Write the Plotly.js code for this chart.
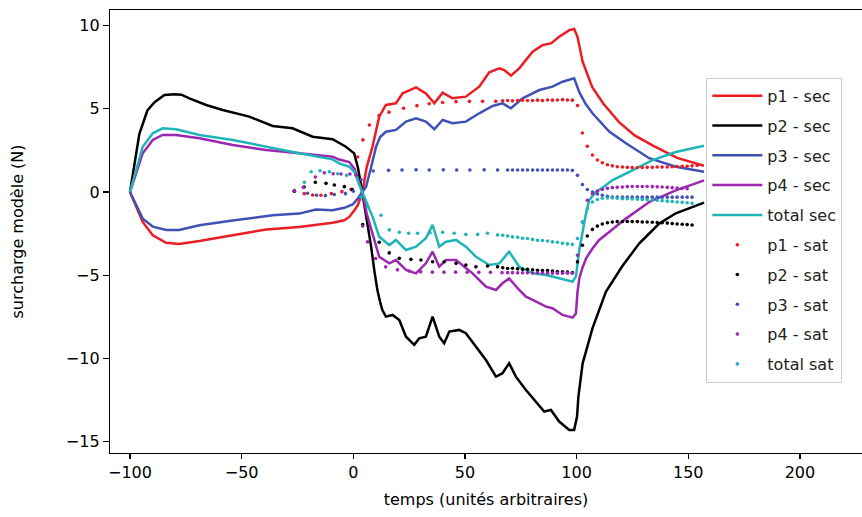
<!DOCTYPE html>
<html>
<head>
<meta charset="utf-8">
<script src="https://cdn.plot.ly/plotly-3.0.1.min.js"></script>
<style>html,body{margin:0;padding:0;background:#fff;overflow:hidden;}#chart{width:864px;height:517px;}</style>
</head>
<body>
<div id="chart"></div>
<script>
// ---- solid "sec" series ----
const xP1 = [-100,-97,-94.3,-89.8,-83.8,-78,-68.9,-54,-39,-24.2,-9.3,-4,-1.8,0.5,2,3.5,4.5,6,8.6,11.6,14.6,19.1,22.1,28.1,32.5,36.3,40,44.4,50.4,56.4,60.9,65.4,67.6,70.6,74.3,80.3,84.7,88.5,92.2,96.7,98.9,100.4,102.7,107,112,119,126,134,145,157];
const yP1 = [0,-1.0,-1.8,-2.6,-3.05,-3.12,-2.95,-2.6,-2.25,-2.1,-1.85,-1.7,-1.5,-1.1,-0.8,-0.25,0.3,1.5,2.72,4.53,5.23,5.33,5.93,6.29,5.93,5.33,5.97,5.63,5.73,6.33,7.2,7.43,7.33,6.99,7.43,8.43,8.83,8.93,9.33,9.73,9.8,9.33,7.83,6.3,5.3,4.2,3.4,2.8,2.05,1.58];

const xP2 = [-100,-95.8,-92.2,-89,-84.6,-80,-77,-73.4,-65.9,-58.5,-46.6,-36.1,-27.2,-18.2,-9.3,-3.3,0.4,2,3.5,5,6.5,8,9.5,10.8,12,13,14.6,17.6,20.6,23.6,27.3,29.5,32.5,35.5,38.5,40.7,43,47.4,50.4,54.9,59.4,63.9,66.8,69.8,72.8,77.3,81.8,85.5,88.5,92.2,96.7,98.9,100.2,100.8,102.7,107.1,113.1,120.5,128,137,144.4,157.1];
const yP2 = [0,3.5,4.9,5.4,5.83,5.88,5.85,5.63,5.23,4.93,4.53,3.97,3.83,3.32,3.17,2.72,2.32,1.5,0.4,-0.8,-2.0,-3.3,-4.8,-5.9,-6.6,-7.1,-7.49,-7.39,-7.69,-8.7,-9.19,-8.8,-8.7,-7.49,-8.7,-9.09,-8.39,-8.29,-8.49,-9.3,-10.1,-11.1,-10.9,-10.3,-11.1,-11.9,-12.6,-13.2,-13.1,-13.8,-14.3,-14.3,-13.5,-12.3,-10.3,-8.2,-6.0,-4.45,-3.1,-1.9,-1.28,-0.64];

const xP3 = [-100,-97,-94.3,-89.8,-83.8,-78,-68.9,-54,-36.1,-24.2,-16.7,-9.3,-4,-0.3,2,4,5.7,8,10.2,12,14.6,19.1,23.6,28.1,32.5,36.3,40,44.4,50.4,56.4,62.4,66.8,70.6,75.8,83.3,89.2,93.7,98.9,101.2,104,107.1,114.6,122.1,132.5,144.4,157.1];
const yP3 = [0,-0.9,-1.6,-2.08,-2.28,-2.28,-2.0,-1.72,-1.4,-1.3,-1.05,-1.1,-0.95,-0.75,-0.4,0,0.3,1.5,2.72,3.3,3.62,3.73,4.23,4.43,4.23,3.77,4.33,4.13,4.23,4.73,5.17,5.33,5.03,5.63,6.13,6.33,6.63,6.83,6.0,5.3,4.73,3.63,2.93,2.03,1.52,1.22];

const xP4 = [-100,-97,-94.3,-89.8,-85.4,-79.4,-68.9,-54,-39.1,-24.2,-9.3,-6.3,-1.8,0.5,2.5,4,6,8.6,11.6,16.1,19.1,23.6,28.1,32.5,35.5,38.5,41.5,46,53.4,59.4,63.9,66.8,69.8,74.3,77.3,80.3,86.3,89.2,93.7,98.2,99.7,100.4,101.2,102.5,104.2,107.1,110,114.6,122.1,132.5,144.4,157.1];
const yP4 = [0,1.3,2.33,3.13,3.43,3.43,3.23,2.82,2.52,2.33,2.12,1.95,1.8,1.4,0.6,0,-1.3,-2.48,-3.89,-4.29,-4.09,-4.69,-4.89,-4.29,-3.59,-4.49,-4.09,-4.09,-4.89,-5.69,-5.89,-5.49,-5.2,-5.89,-6.29,-6.49,-6.89,-6.99,-7.39,-7.55,-7.3,-6.0,-5.2,-4.6,-4.0,-3.4,-2.9,-2.4,-1.6,-0.6,0.1,0.7];

const xTot = [-100,-97,-94.3,-89.8,-85.4,-79.4,-68.9,-54,-39.1,-24.2,-9.3,-6.3,-1.8,0.5,2.5,4,6,8.6,11.6,16.1,19.1,23.6,28.1,32.5,35.5,38.5,41.5,46,50.4,54.9,60.9,65.4,69.8,74.3,80.3,86.3,92.2,98.2,99.7,101.2,104.2,105.6,108.6,111.6,116.1,122.1,134,144.4,157.1];
const yTot = [0,1.5,2.72,3.53,3.83,3.77,3.43,3.13,2.72,2.33,1.96,1.72,1.52,1.2,0.5,0,-0.7,-1.48,-2.69,-3.19,-2.88,-3.49,-3.29,-2.78,-1.98,-3.29,-2.99,-2.88,-3.29,-3.89,-4.39,-4.29,-3.59,-4.49,-4.89,-4.99,-5.19,-5.39,-5.09,-3.49,-1.3,-0.5,0.0,0.25,0.72,1.1,1.92,2.4,2.78];

// ---- dotted "sat" series (sampled points) ----
const xS1 = [-26.4,-22,-18.2,-14.5,-9.8,-5.1,-1,1.9,4.3,7.2,11.5,16,22.5,28.5,34,40,46,52,57.9,63.8,66.9,69.1,71.3,73.6,75.8,78.0,80.3,82.5,84.7,87.0,89.2,91.4,93.7,95.9,98.1,100.4,102.6,104.8,107.1,109.3,111.5,113.8,116.0,118.2,120.5,122.7,124.9,127.2,129.4,131.6,133.9,136.1,138.3,140.6,142.8,145.0,147.3,149.5,151.7,154.0];
const yS1 = [0.05,-0.1,-0.18,-0.2,-0.1,0.02,0.16,2.1,3.13,4.03,4.6,4.8,5.03,5.19,5.3,5.38,5.43,5.45,5.45,5.45,5.48,5.5,5.48,5.5,5.52,5.5,5.5,5.52,5.5,5.53,5.52,5.53,5.55,5.53,5.52,5.2,3.55,2.75,2.22,1.92,1.76,1.64,1.57,1.52,1.5,1.48,1.47,1.47,1.47,1.48,1.48,1.5,1.5,1.5,1.52,1.53,1.55,1.55,1.57,1.6];

const xS2 = [-26.4,-22,-17,-12.2,-8.5,-4,-0.5,4.2,11.6,16.1,20.6,25.8,30.3,35.5,40.7,46,50.4,54.9,60.1,64.6,66.9,69.1,71.3,73.6,75.8,78.0,80.3,82.5,84.7,87.0,89.2,91.4,93.7,95.9,98.1,100.4,102.6,104.8,107.1,109.3,111.5,113.8,116.0,118.2,120.5,122.7,124.9,127.2,129.4,131.6,133.9,136.1,138.3,140.6,142.8,145.0,147.3,149.5,151.7];
const yS2 = [0.05,0.3,0.58,0.52,0.42,0.32,0.15,-1.95,-3.02,-3.66,-3.99,-4.05,-4.09,-4.19,-4.19,-4.29,-4.39,-4.49,-4.45,-4.5,-4.55,-4.6,-4.58,-4.62,-4.65,-4.65,-4.68,-4.7,-4.72,-4.72,-4.75,-4.78,-4.8,-4.82,-4.85,-4.2,-3.2,-2.65,-2.25,-2.05,-1.92,-1.85,-1.8,-1.78,-1.77,-1.77,-1.78,-1.78,-1.8,-1.8,-1.82,-1.83,-1.85,-1.87,-1.9,-1.92,-1.94,-1.96,-1.98];

const xS3 = [-26.4,-20.5,-16.5,-12.5,-8.5,-3.5,0,3.5,8.9,15.8,21.8,28.1,34.0,40.3,46.3,52.2,58.6,64.6,69.1,71.3,73.6,75.8,78.0,80.3,82.5,84.7,87.0,89.2,91.4,93.7,95.9,98.1,100.4,102.6,104.8,107.1,109.3,111.5,113.8,116.0,118.2,120.5,122.7,124.9,127.2,129.4,131.6,133.9,136.1,138.3,140.6,142.8,145.0,147.3,149.5,151.7];
const yS3 = [0.08,-0.08,-0.2,-0.22,-0.15,-0.1,0.05,0.75,1.26,1.3,1.32,1.33,1.32,1.33,1.32,1.32,1.33,1.32,1.32,1.32,1.32,1.32,1.32,1.32,1.32,1.32,1.32,1.32,1.32,1.32,1.32,1.3,1.0,0.45,0.15,0.0,-0.12,-0.2,-0.26,-0.3,-0.3,-0.31,-0.31,-0.31,-0.31,-0.31,-0.31,-0.31,-0.31,-0.31,-0.31,-0.31,-0.31,-0.31,-0.31,-0.31];

const xS4 = [-26.4,-22.4,-17,-13,-9,-5.5,-1.5,1.2,4.2,6.4,10,14.5,19.8,25,30.2,35.4,40.6,45.8,51,56.2,61.4,66.6,69.1,71.3,73.6,75.8,78.0,80.3,82.5,84.7,87.0,89.2,91.4,93.7,95.9,98.1,100.4,102.6,104.8,107.1,109.3,111.5,113.8,116.0,118.2,120.5,122.7,124.9,127.2,129.4,131.6,133.9,136.1,138.3,140.6,142.8,145.0,147.3,149.5];
const yS4 = [0.08,0.28,0.9,1.15,1.1,1.08,1.08,1.02,-2.05,-3.0,-4.0,-4.5,-4.68,-4.75,-4.8,-4.82,-4.82,-4.82,-4.82,-4.83,-4.83,-4.85,-4.85,-4.85,-4.86,-4.86,-4.86,-4.87,-4.87,-4.87,-4.88,-4.88,-4.88,-4.88,-4.88,-4.88,-3.8,-1.8,-0.5,-0.1,0.05,0.15,0.22,0.26,0.28,0.3,0.32,0.33,0.33,0.33,0.33,0.32,0.31,0.3,0.28,0.26,0.24,0.22,0.2];

const xST = [-21.9,-18.9,-14.9,-10.7,-7,-3,3.5,6.4,12.4,16.1,20.6,24.8,28.8,34.4,40,45.2,50.4,55.7,60.1,64.6,66.9,69.1,71.3,73.6,75.8,78.0,80.3,82.5,84.7,87.0,89.2,91.4,93.7,95.9,98.1,100.4,102.6,104.8,107.1,109.3,111.5,113.8,116.0,118.2,120.5,122.7,124.9,127.2,129.4,131.6,133.9,136.1,138.3,140.6,142.8,145.0,147.3,149.5,151.7];
const yST = [0.58,1.22,1.28,1.22,1.1,1.0,-0.3,-0.88,-1.4,-2.28,-2.42,-2.48,-2.48,-2.45,-2.42,-2.48,-2.55,-2.55,-2.48,-2.58,-2.6,-2.65,-2.7,-2.72,-2.78,-2.8,-2.85,-2.9,-2.92,-2.95,-3.0,-3.02,-3.08,-3.12,-3.15,-2.8,-1.8,-1.0,-0.6,-0.45,-0.38,-0.36,-0.36,-0.38,-0.4,-0.4,-0.42,-0.44,-0.45,-0.47,-0.48,-0.5,-0.52,-0.55,-0.57,-0.6,-0.62,-0.65,-0.68];

const names = ['p1 - sec','p2 - sec','p3 - sec','p4 - sec','total sec','p1 - sat','p2 - sat','p3 - sat','p4 - sat','total sat'];
const xTicks = [-100,-50,0,50,100,150,200];
const yTicks = [-15,-10,-5,0,5,10];

const RED = '#ec1c24', BLACK = '#000000', BLUE = '#3f51b5', PURPLE = '#9c27b0', CYAN = '#1fb5b8';
const FONT = 'DejaVu Sans, Verdana, sans-serif';

function lineTrace(x, y, name, color, g) {
  return {x: x, y: y, name: name, type: 'scatter', mode: 'lines', legendgroup: g,
          line: {color: color, width: 2.5}};
}
function dotTrace(x, y, name, color, g) {
  return {x: x, y: y, name: name, type: 'scatter', mode: 'markers', legendgroup: g,
          marker: {color: color, size: 3.6, line: {width: 0}}};
}

const data = [
  lineTrace(xP1, yP1, names[0], RED, 'g0'),
  lineTrace(xP2, yP2, names[1], BLACK, 'g1'),
  lineTrace(xP3, yP3, names[2], BLUE, 'g2'),
  lineTrace(xP4, yP4, names[3], PURPLE, 'g3'),
  lineTrace(xTot, yTot, names[4], CYAN, 'g4'),
  dotTrace(xS1, yS1, names[5], RED, 'g5'),
  dotTrace(xS2, yS2, names[6], BLACK, 'g6'),
  dotTrace(xS3, yS3, names[7], BLUE, 'g7'),
  dotTrace(xS4, yS4, names[8], PURPLE, 'g8'),
  dotTrace(xST, yST, names[9], CYAN, 'g9')
];

const axisCommon = {
  showgrid: false, zeroline: false, showline: true, linecolor: '#000', linewidth: 1.2,
  mirror: true, ticks: 'outside', tickcolor: '#000', tickwidth: 1.2,
  tickfont: {family: FONT, size: 16, color: '#000'}
};

const layout = {
  width: 864, height: 517,
  margin: {l: 110, r: 2, t: 10, b: 64, pad: 0},
  paper_bgcolor: '#fff', plot_bgcolor: '#fff',
  font: {family: FONT, size: 16, color: '#000'},
  showlegend: true,
  legend: {
    x: 0.793, y: 0.847, xanchor: 'left', yanchor: 'top',
    bgcolor: 'rgba(255,255,255,0.85)', bordercolor: '#cccccc', borderwidth: 1,
    font: {family: FONT, size: 16, color: '#222'},
    traceorder: 'grouped', tracegroupgap: 6, itemwidth: 50
  },
  xaxis: Object.assign({}, axisCommon, {
    range: [-108.95, 227.8], tickmode: 'array', tickvals: xTicks, ticklen: 5,
    title: {text: 'temps (unités arbitraires)', font: {family: FONT, size: 16, color: '#000'}, standoff: 12}
  }),
  yaxis: Object.assign({}, axisCommon, {
    range: [-15.69, 10.94], tickmode: 'array', tickvals: yTicks, ticklen: 6,
    title: {text: 'surcharge modèle (N)', font: {family: FONT, size: 16, color: '#000'}, standoff: 38}
  })
};

Plotly.newPlot('chart', data, layout, {staticPlot: true, displayModeBar: false});
</script>
</body>
</html>
